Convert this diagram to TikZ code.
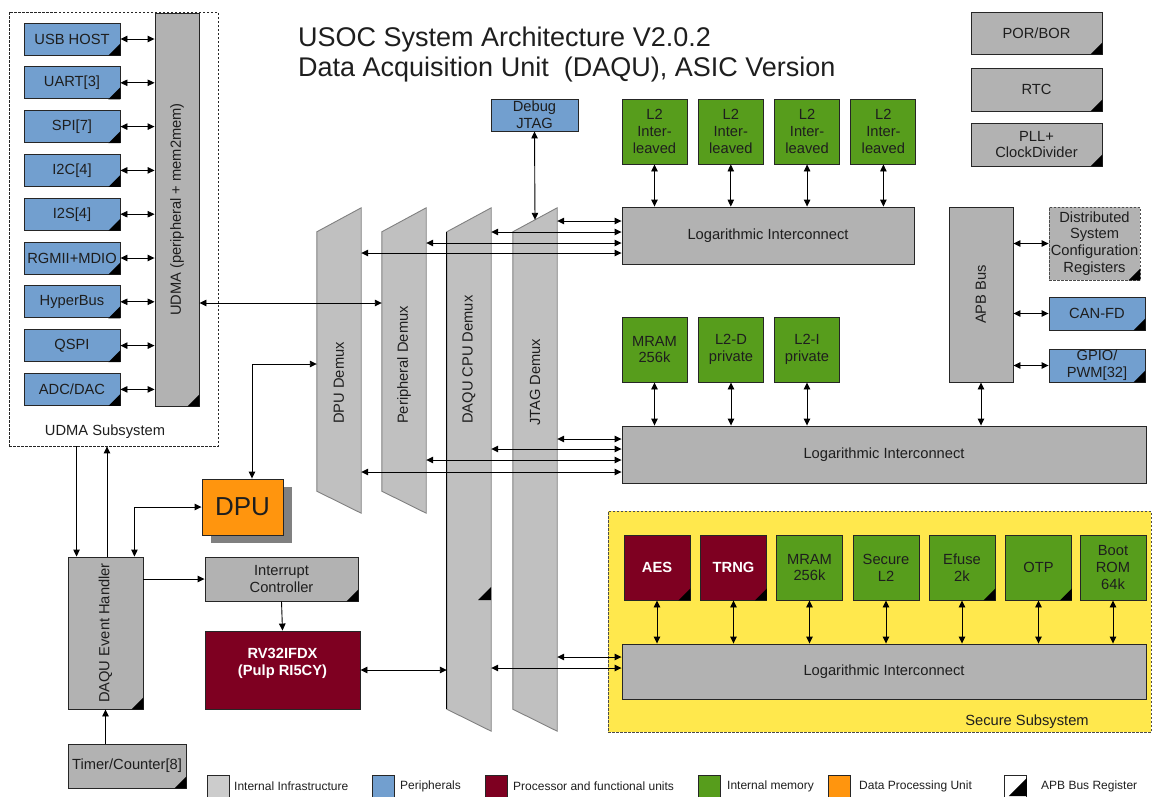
\documentclass[tikz,border=0pt]{standalone}
\usepackage{fontspec}
\setmainfont{Liberation Sans}
\usetikzlibrary{arrows.meta}
\usetikzlibrary{shadows}

\definecolor{infragrey}{RGB}{178,178,178}
\definecolor{demuxgrey}{RGB}{192,192,192}
\definecolor{legendgrey}{RGB}{204,204,204}
\definecolor{periphblue}{RGB}{114,159,207}
\definecolor{memgreen}{RGB}{87,157,28}
\definecolor{procred}{RGB}{126,0,33}
\definecolor{dpuorange}{RGB}{255,149,14}
\definecolor{secyellow}{RGB}{255,232,77}
\definecolor{inktext}{RGB}{30,30,30}

\newcommand{\boxfont}{\fontsize{14.7}{16.8}\selectfont}
% black corner = APB bus register
\newcommand{\apbreg}[1]{\fill (#1.south east) -- ++(-12,0) -- ++(12,-12) -- cycle;}

\tikzset{
  blk/.style={draw=black!85, line width=0.9pt, rectangle, inner sep=0pt, align=center, font=\boxfont, text=inktext},
  infra/.style={blk, fill=infragrey},
  periph/.style={blk, fill=periphblue},
  mem/.style={blk, fill=memgreen},
  proc/.style={blk, fill=procred, text=white, font=\boxfont\bfseries},
  demuxbody/.style={fill=demuxgrey, draw=black!50, line width=0.9pt},
  lbl/.style={font=\boxfont, text=inktext, inner sep=0pt},
  bus/.style={line width=0.9pt, {Triangle[length=7pt,width=6.5pt]}-{Triangle[length=7pt,width=6.5pt]}},
  onew/.style={line width=0.9pt, -{Triangle[length=7pt,width=6.5pt]}},
  dots/.style={dash pattern=on 2.5pt off 1.5pt, line width=0.8pt},
}

\begin{document}
\begin{tikzpicture}[x=1pt, y=-1pt]
    \useasboundingbox (0,0) rectangle (1152,796);

    % title
    \node[anchor=base west, inner sep=0, text=inktext, font=\fontsize{27}{30}\selectfont] (title1) at (298,46) {USOC System Architecture V2.0.2};
    \node[anchor=base west, inner sep=0, text=inktext, font=\fontsize{27}{30}\selectfont] (title2) at (298,76) {Data Acquisition Unit\ \ (DAQU), ASIC Version};

    % UDMA subsystem
    \node[draw=black!85, dots, minimum width=209pt, minimum height=434pt, inner sep=0] (udmasys) at (113.5,229) {};
    \node[lbl] (udmalbl) at (105,432) {UDMA Subsystem};
    \node[infra, minimum width=44pt, minimum height=393pt] (udma) at (177,209.5) {};
    \node[lbl, rotate=90] (udmatxt) at (udma) {UDMA (peripheral + mem2mem)};
    \apbreg{udma}

    \foreach \n/\t [count=\i from 0] in {usb/{USB HOST}, uart/{UART[3]}, spi/{SPI[7]}, itc/{I2C[4]}, its/{I2S[4]}, rgmii/{RGMII+MDIO}, hyper/{HyperBus}, qspi/{QSPI}, adc/{ADC/DAC}} {
        \node[periph, minimum width=96pt, minimum height=32pt] (\n) at (72,39+43.8*\i) {\t};
        \apbreg{\n}
        \draw[bus] (\n.east) -- (udma.west |- \n.east);
    }

    % demultiplexers
    \foreach \n/\cx/\h in {dpud/339/305, perd/404/305, cpud/469/523, jtagd/535/523}
        \node[minimum width=44pt, minimum height=\h pt, inner sep=0] (\n) at (\cx,208+\h/2) {};
    \foreach \n in {dpud, perd, cpud, jtagd}
        \filldraw[demuxbody] ([yshift=-24pt]\n.north west) -- (\n.north east) -- (\n.south east) -- ([yshift=22pt]\n.south west) -- cycle;
    \draw[line width=0.9pt] ([yshift=-24pt]cpud.north west) -- ([yshift=22pt]cpud.south west);
    \fill (cpud.east |- 0,600) -- ++(-13,0) -- ++(13,-13) -- cycle;
    \node[lbl, rotate=90, anchor=west] (dpulbl) at (dpud |- 0,424) {DPU Demux};
    \node[lbl, rotate=90, anchor=west] (perlbl) at (perd |- 0,424) {Peripheral Demux};
    \node[lbl, rotate=90, anchor=west] (cpulbl) at (cpud |- 0,424) {DAQU CPU Demux};
    \node[lbl, rotate=90, anchor=west] (jtaglbl) at (jtagd |- 0,426) {JTAG Demux};

    \node[periph, minimum width=87pt, minimum height=32pt] (dbg) at (534.5,115) {Debug\\JTAG};
    \draw[bus] (dbg.south) -- ([yshift=-12pt]jtagd.north);

    % shared L2 memory
    \node[infra, minimum width=292pt, minimum height=57pt] (logtop) at (768,235.5) {Logarithmic Interconnect};
    \foreach \i in {0,...,3} {
        \node[mem, minimum width=65pt, minimum height=65pt] (ltwo\i) at (654.5+76.3*\i,131.5) {L2\\Inter-\\leaved};
        \draw[bus] (ltwo\i.south) -- (logtop.north -| ltwo\i.south);
    }
    \foreach \n/\yy in {jtagd/221, cpud/232, perd/243, dpud/253}
        \draw[bus] (\n.east |- 0,\yy) -- (logtop.west |- 0,\yy);

    % private memory
    \node[infra, minimum width=524pt, minimum height=57pt] (logmid) at (884,454.5) {Logarithmic Interconnect};
    \foreach \n/\t/\cx in {mram/{MRAM\\256k}/654.5, ltwod/{L2-D\\private}/731, ltwoi/{L2-I\\private}/807} {
        \node[mem, minimum width=65pt, minimum height=65pt] (\n) at (\cx,349.5) {\t};
        \draw[bus] (\n.south) -- (logmid.north -| \n.south);
    }
    \foreach \n/\yy in {jtagd/439, cpud/449, perd/460, dpud/472}
        \draw[bus] (\n.east |- 0,\yy) -- (logmid.west |- 0,\yy);

    % APB side
    \node[infra, minimum width=131pt, minimum height=42pt] (por) at (1036.5,33) {POR/BOR};
    \node[infra, minimum width=131pt, minimum height=43pt] (rtc) at (1036.5,89.5) {RTC};
    \node[infra, minimum width=131pt, minimum height=43pt] (pll) at (1036.5,144.5) {PLL+\\ClockDivider};
    \node[infra, minimum width=64pt, minimum height=175pt] (apb) at (981,294.5) {};
    \node[lbl, rotate=90] (apbtxt) at (apb) {APB Bus};
    \node[infra, dots, draw=black!70, minimum width=91pt, minimum height=73pt] (dscr) at (1094.5,243.5) {Distributed\\System\\Configuration\\Registers};
    \node[periph, minimum width=96pt, minimum height=33pt] (can) at (1097,313.5) {CAN-FD};
    \node[periph, minimum width=96pt, minimum height=33pt] (gpio) at (1097,365.5) {GPIO/\\PWM[32]};
    \foreach \n in {por, rtc, pll, dscr, can, gpio} {
        \apbreg{\n}
    }
    \foreach \n in {dscr, can, gpio}
        \draw[bus] (apb.east |- \n.west) -- (\n.west);
    \draw[bus] (apb.south) -- (apb.south |- logmid.north);

    % secure subsystem
    \node[fill=secyellow, draw=black!70, dots, minimum width=543pt, minimum height=221pt, inner sep=0] (secsys) at (879.5,621.5) {};
    \node[lbl] (seclbl) at (1027,722) {Secure Subsystem};
    \node[infra, minimum width=524pt, minimum height=55pt] (logsec) at (884,671.5) {Logarithmic Interconnect};
    \node[proc, minimum width=66pt, minimum height=65pt] (aes) at (657,567.5) {AES};
    \node[proc, minimum width=66pt, minimum height=65pt] (trng) at (733.5,567.5) {TRNG};
    \node[mem, minimum width=66pt, minimum height=65pt] (smram) at (809.5,567.5) {MRAM\\256k};
    \node[mem, minimum width=66pt, minimum height=65pt] (sltwo) at (886,567.5) {Secure\\L2};
    \node[mem, minimum width=66pt, minimum height=65pt] (efuse) at (962,567.5) {Efuse\\2k};
    \node[mem, minimum width=66pt, minimum height=65pt] (otp) at (1038.5,567.5) {OTP};
    \node[mem, minimum width=66pt, minimum height=65pt] (boot) at (1113,567.5) {Boot\\ROM\\64k};
    \foreach \n in {aes, trng, efuse, otp} {
        \apbreg{\n}
    }
    \foreach \n in {aes, trng, smram, sltwo, efuse, otp, boot}
        \draw[bus] (\n.south) -- (logsec.north -| \n.south);
    \foreach \n/\yy in {jtagd/657, cpud/668}
        \draw[bus] (\n.east |- 0,\yy) -- (logsec.west |- 0,\yy);

    % event handler, DPU, core
    \node[infra, minimum width=75pt, minimum height=152pt] (evh) at (105.5,633) {};
    \node[lbl, rotate=90] (evhtxt) at (evh) {DAQU Event Handler};
    \apbreg{evh}
    \node[blk, fill=dpuorange, minimum width=81pt, minimum height=56pt, font=\fontsize{26}{28}\selectfont,
          drop shadow={shadow xshift=9pt, shadow yshift=-8pt, fill=black!50, opacity=1}] (dpu) at (242.5,507) {DPU};
    \node[infra, minimum width=153pt, minimum height=44pt] (ic) at (281.5,579) {Interrupt\\Controller};
    \apbreg{ic}
    \node[proc, minimum width=155pt, minimum height=78pt] (rv) at (282.5,670) {RV32IFDX\\(Pulp RI5CY)\\\mbox{}};
    \node[infra, minimum width=118pt, minimum height=44pt] (timer) at (127,766) {Timer/Counter[8]};
    \apbreg{timer}

    \coordinate (evhin) at ([xshift=9pt]evh.north west);
    \coordinate (evhout) at ([xshift=1.5pt]evh.north);
    \coordinate (evhdpu) at ([xshift=-9pt]evh.north east);
    \draw[onew] (evhin |- udmasys.south) -- (evhin);
    \draw[onew] (evhout) -- (evhout |- udmasys.south);
    \draw[bus] (evhdpu) |- (dpu.west);
    \draw[onew] (evh.east |- ic.west) -- (ic.west);
    \draw[onew] (ic.south) -- (rv.north);
    \draw[bus] (rv.east) -- (cpud.west |- rv.east);
    \draw[onew] (timer.north -| evh.south) -- (evh.south);
    \draw[bus] (udma.east |- 0,303) -- (perd.west |- 0,303);
    \draw[bus] (dpud.west |- 0,364) -| ([xshift=9.5pt]dpu.north);

    % legend
    \foreach \n/\c/\xx in {lgi/legendgrey/207, lgp/periphblue/372, lgr/procred/485, lgm/memgreen/698, lgo/dpuorange/828, lga/white/1004}
        \node[draw=black!85, line width=0.9pt, fill=\c, minimum width=22pt, minimum height=26pt, anchor=north west, inner sep=0] (\n) at (\xx,775) {};
    \fill (lga.east |- 0,796) -- ++(-18,0) -- ++(18,-18) -- cycle;
    \foreach \n/\t/\xx in {lgitxt/{Internal Infrastructure}/234, lgptxt/{Peripherals}/400, lgrtxt/{Processor and functional units}/513, lgmtxt/{Internal memory}/727, lgotxt/{Data Processing Unit}/859, lgatxt/{APB Bus Register}/1041}
        \node[anchor=west, inner sep=0, text=inktext, font=\fontsize{12}{14}\selectfont] (\n) at (\xx,786) {\t};
\end{tikzpicture}
\end{document}
